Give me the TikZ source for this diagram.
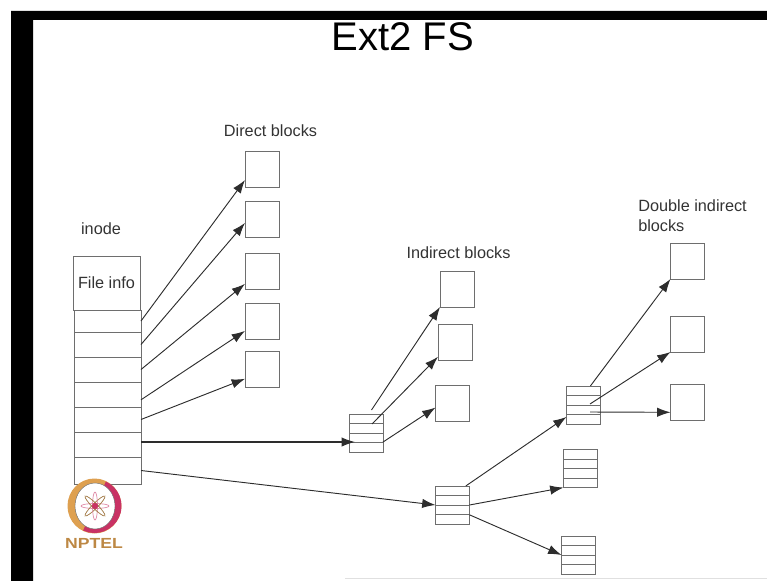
\documentclass[tikz,border=0pt]{standalone}
\usepackage{fontspec}
\setmainfont{Liberation Sans}
\usetikzlibrary{arrows.meta,positioning,shapes.multipart}
\definecolor{traco}{RGB}{110,110,110}
\definecolor{seta}{RGB}{45,45,45}
\definecolor{laranja}{RGB}{222,160,80}
\definecolor{carmim}{RGB}{200,50,100}
\begin{document}
\begin{tikzpicture}[x=.75pt,y=-.75pt,
        bloco/.style={draw=traco,fill=white,minimum width=25.5pt,minimum height=27pt,inner sep=0pt,outer sep=0pt},
        celula/.style={draw=traco,fill=white,minimum width=50.25pt,minimum height=18.75pt,inner sep=0pt,outer sep=0pt},
        pilha/.style={draw=traco,fill=white,rectangle split,rectangle split parts=4,rectangle split empty part height=6.75pt,
                      rectangle split empty part depth=0pt,rectangle split part align=center,
                      minimum width=25.5pt,inner xsep=0pt,inner ysep=0pt,outer sep=0pt},
        rotulo/.style={inner sep=0pt,text=black!80,font=\fontsize{12.2}{15}\selectfont,align=left},
        ligacao/.style={-{Latex[length=10pt,width=7pt]},draw=seta,line width=.7pt}]
      \useasboundingbox (0,0) rectangle (767,581);
      % moldura
      \fill[black] (11,581) -- (11,11) -- (767,11) -- (767,20) -- (33,20) -- (33,581) -- cycle;
      \draw[black!12] (345,578) -- (767,578);
      \node[inner sep=0pt,font=\fontsize{30}{30}\selectfont] (titulo) at (403,37) {Ext2 FS};
      % inode
      \node[rotulo] (linode) at (101,229) {inode};
      \node[celula,minimum height=40.5pt,text=black!80,font=\fontsize{12.2}{15}\selectfont] (info) at (106.5,283) {File info};
      \node[celula,minimum height=16.5pt] (c1) at (107.5,321) {};
      \node[celula,below=0pt of c1] (c2) {};
      \node[celula,below=0pt of c2] (c3) {};
      \node[celula,below=0pt of c3] (c4) {};
      \node[celula,below=0pt of c4] (c5) {};
      \node[celula,below=0pt of c5] (c6) {};
      \node[celula,minimum height=20.25pt,below=0pt of c6] (c7) {};
      % blocos diretos
      \node[rotulo] (ldiretos) at (270.5,131) {Direct blocks};
      \node[bloco] (d1) at (262,169) {};
      \node[bloco] (d2) at (262,219) {};
      \node[bloco] (d3) at (262,271.5) {};
      \node[bloco] (d4) at (262,321.5) {};
      \node[bloco] (d5) at (262,369) {};
      % blocos indiretos
      \node[rotulo] (lindiretos) at (458.5,253) {Indirect blocks};
      \node[pilha] (i) at (366,433) {};
      \node[bloco] (e1) at (457,289) {};
      \node[bloco] (e2) at (455,342) {};
      \node[bloco] (e3) at (452.5,403) {};
      % blocos duplamente indiretos
      \node[rotulo,anchor=north west] (lduplos) at (638,199) {Double indirect\\blocks};
      \node[pilha] (j) at (452.5,505) {};
      \node[pilha] (k1) at (583.5,405) {};
      \node[pilha] (k2) at (580.5,468.5) {};
      \node[pilha] (k3) at (578.5,555) {};
      \node[bloco] (m1) at (687.5,261) {};
      \node[bloco] (m2) at (687.5,334) {};
      \node[bloco] (m3) at (687.5,402.5) {};
      % pontas soltas
      \coordinate (entrada) at (355,442);
      \coordinate (saidaA) at (371.5,410);
      \coordinate (saidaB) at (372,424);
      \coordinate (saidaC) at (590,404);
      \coordinate (saidaD) at (590,412);
      % ligacoes
      \draw[ligacao](c1.east)--(d1.213);\draw[ligacao](c2.east)--(d2.193);\draw[ligacao](c3.east)--(d3.216);
      \draw[ligacao](c4.351)--(d4.209);\draw[ligacao](c5.east)--(d5.210);
      \draw[ligacao,line width=1pt](c6.east |- entrada)--(entrada);
      \draw[ligacao](c7.east)--(j.west);
      \draw[ligacao](saidaA)--(e1.south west);\draw[ligacao](saidaB)--(e2.221);\draw[ligacao](i.332)--(e3.195);
      \draw[ligacao](j.55)--(k1.215);\draw[ligacao](j.east)--(k2.south west);\draw[ligacao](j.330)--(k3.west);
      \draw[ligacao](k1.70)--(m1.south west);\draw[ligacao](saidaC)--(m2.south west);\draw[ligacao](saidaD)--(m3.210);
      % logotipo
      \fill[laranja] (94.5,506) ellipse (27 and 27.5);
      \fill[carmim] (94.5,506) +(-65:27) arc[start angle=-65,end angle=115,radius=27];
      \fill[white,draw=black!60,line width=.3pt] (95,506) ellipse (20 and 23);
      \draw[carmim!60,line width=.5pt,rotate around={0:(95,506)}] (95,506) ellipse (14 and 2.5);
      \draw[laranja!70!black,line width=.5pt,rotate around={45:(95,506)}] (95,506) ellipse (14 and 2.5);
      \draw[carmim!60,line width=.5pt,rotate around={90:(95,506)}] (95,506) ellipse (14 and 2.5);
      \draw[laranja!70!black,line width=.5pt,rotate around={135:(95,506)}] (95,506) ellipse (14 and 2.5);
      \fill[carmim] (95,506) circle (3);
      \node[inner sep=0pt,text=laranja!85!black,font=\fontsize{11}{12}\selectfont\bfseries] (nptel) at (94,543) {\scalebox{1.2}[1]{NPTEL}};
    \end{tikzpicture}
\end{document}
